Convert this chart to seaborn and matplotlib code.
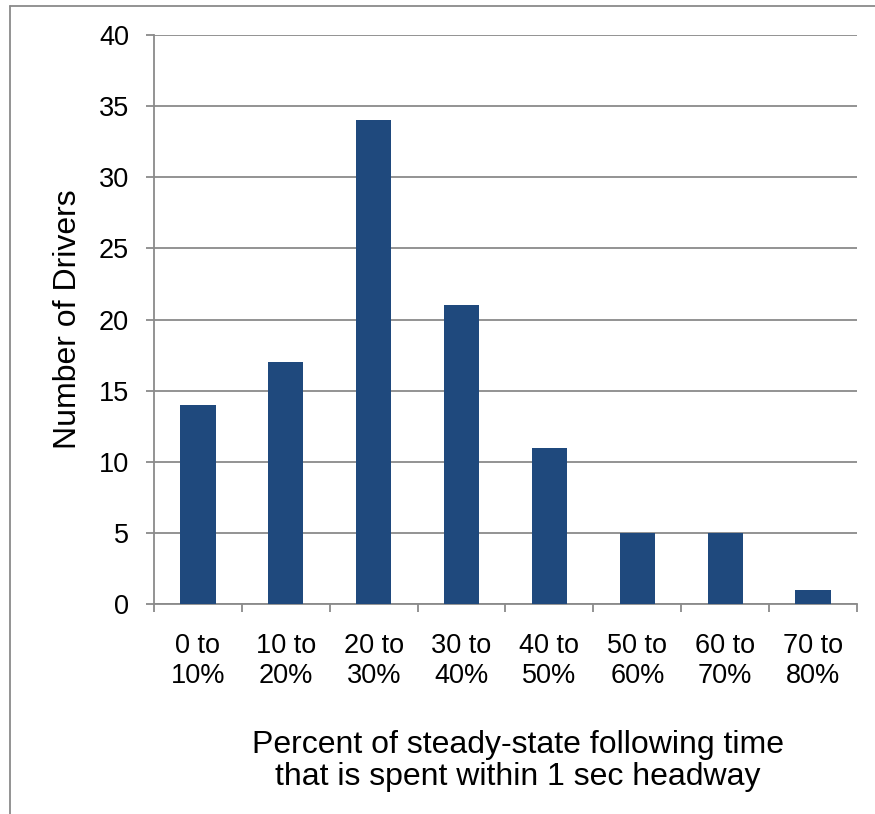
import matplotlib
matplotlib.use("Agg")
import matplotlib.pyplot as plt
from matplotlib.lines import Line2D
import seaborn as sns
import pandas as pd

categories = ["0 to\n10%", "10 to\n20%", "20 to\n30%", "30 to\n40%",
              "40 to\n50%", "50 to\n60%", "60 to\n70%", "70 to\n80%"]
drivers = [14, 17, 34, 21, 11, 5, 5, 1]
y_ticks = [0, 5, 10, 15, 20, 25, 30, 35, 40]

df = pd.DataFrame({"bin": categories, "count": drivers})

sns.set_theme(style="white")
plt.rcParams["font.family"] = ["Liberation Sans", "DejaVu Sans"]
plt.rcParams["text.color"] = "black"

grey = "#8a8a8a"
fig = plt.figure(figsize=(8.75, 8.14), dpi=100)
ax = fig.add_axes([154 / 875, 1 - 604 / 814, (857 - 154) / 875, (604 - 35) / 814])

sns.barplot(data=df, x="bin", y="count", color="#1F497D", width=0.4,
            saturation=1, linewidth=0, ax=ax, zorder=3)

ax.set_xlim(-0.5, len(categories) - 0.5)
ax.set_ylim(0, 40)
ax.set_yticks(y_ticks)
ax.set_yticklabels([str(v) for v in y_ticks])
ax.yaxis.grid(True, color=grey, lw=1.3, zorder=0)
ax.set_axisbelow(True)

for side in ("top", "right"):
    ax.spines[side].set_visible(False)
for side in ("left", "bottom"):
    ax.spines[side].set_color(grey)
    ax.spines[side].set_linewidth(1.3)

# category ticks sit on the boundaries between bins
ax.set_xticks([i - 0.5 for i in range(len(categories) + 1)], minor=True)
ax.set_xticks(range(len(categories)))
ax.set_xticklabels(categories, fontsize=19.5, linespacing=1.17)
ax.tick_params(axis="x", which="major", length=0, pad=21, labelcolor="black")
ax.tick_params(axis="x", which="minor", length=6, width=1.3, color=grey,
               direction="out", bottom=True)
ax.tick_params(axis="y", length=6, width=1.3, color=grey, direction="out",
               left=True, pad=12, labelsize=19.5, labelcolor="black")

ax.set_xlabel("")
ax.set_ylabel("Number of Drivers", fontsize=23, labelpad=11, color="black")
fig.text(518 / 875, 1 - 761 / 814,
         "Percent of steady-state following time\nthat is spent within 1 sec headway",
         ha="center", va="center", fontsize=23, linespacing=1.13, color="black")

# chart frame
fig.add_artist(Line2D([10 / 875, 10 / 875], [0, 1 - 6 / 814],
                      transform=fig.transFigure, color=grey, lw=1.3))
fig.add_artist(Line2D([10 / 875, 1], [1 - 6 / 814, 1 - 6 / 814],
                      transform=fig.transFigure, color=grey, lw=1.3))

fig.savefig("out.png", dpi=100, facecolor="white")
